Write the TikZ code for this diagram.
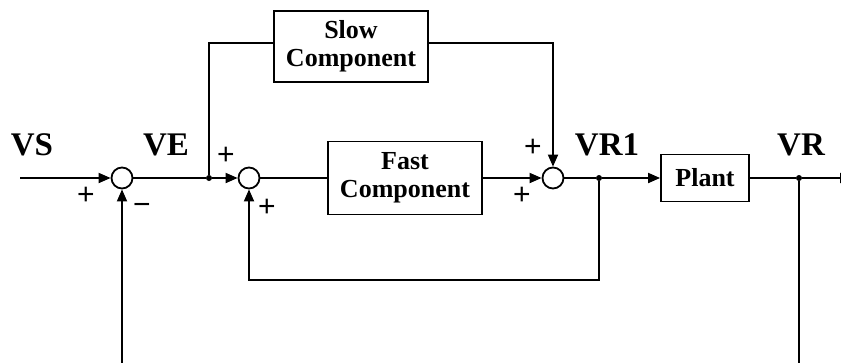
\documentclass[tikz,border=0pt]{standalone}
\usepackage{fontspec}
\setmainfont{Liberation Serif}
\newfontfamily\signfont{Liberation Sans}
\usetikzlibrary{arrows.meta}
\begin{document}
\begin{tikzpicture}[x=1pt,y=-1pt,
  wire/.style={line width=1.8pt},
  arr/.style={wire,-{Triangle[length=12pt,width=10pt]}},
  sumnode/.style={circle,draw,line width=1.8pt,minimum size=21pt,inner sep=0pt},
  blockbox/.style={draw,line width=1.8pt,inner sep=0pt,align=center,font=\fontsize{26}{28}\selectfont\bfseries},
  sig/.style={font=\fontsize{33}{33}\selectfont\bfseries,anchor=base},
  sgn/.style={font=\signfont\fontsize{30}{30}\selectfont},
  dot/.style={circle,fill,inner sep=0pt,minimum size=6pt}]
\useasboundingbox (0,0) rectangle (841,362);
% sums
\node[sumnode] (s1) at (122,178) {};
\node[sumnode] (s2) at (249,178) {};
\node[sumnode] (s3) at (553,178) {};
% blocks
\node[blockbox,minimum width=154pt,minimum height=71pt] (slow) at (351,46.5) {Slow\\Component};
\node[blockbox,minimum width=154pt,minimum height=73pt] (fast) at (405,178) {Fast\\Component};
\node[blockbox,minimum width=88pt,minimum height=47pt] (plant) at (705,178) {Plant};
% junctions
\node[dot] (j1) at (209,178) {};
\node[dot] (j2) at (599,178) {};
\node[dot] (j3) at (799,178) {};
% free ends
\coordinate (in) at (20,178);
\coordinate (out) at (852,178);
\coordinate (b1) at (122,365);
\coordinate (b3) at (799,365);
\coordinate (fb) at (599,280);
% connectors
\draw[arr] (in) -- (s1.west);
\draw[wire] (s1.east) -- (j1);
\draw[arr] (j1) -- (s2.west);
\draw[wire] (s2.east) -- (fast.west);
\draw[arr] (fast.east) -- (s3.west);
\draw[wire] (s3.east) -- (j2);
\draw[arr] (j2) -- (plant.west);
\draw[wire] (plant.east) -- (j3);
\draw[arr] (j3) -- (out);
\draw[wire] (j1) |- ([yshift=3.5pt]slow.west);
\draw[arr] ([yshift=3.5pt]slow.east) -| (s3.north);
\draw[arr] (j2) -- (fb) -| (s2.south);
\draw[arr] (b1) -- (s1.south);
\draw[wire] (j3) -- (b3);
% labels
\node[sig] (lvs) at (32,155) {VS};
\node[sig] (lve) at (166,155) {VE};
\node[sig] (lvr1) at (607,155) {VR1};
\node[sig] (lvr) at (801,155) {VR};
% signs
\node[sgn] (p1) at (86,196) {+};
\node[sgn] (m1) at (142,209) {\char"2212};
\node[sgn] (p2a) at (226,156) {+};
\node[sgn] (p2b) at (267,208) {+};
\node[sgn] (p3a) at (533,148) {+};
\node[sgn] (p3b) at (522,196) {+};
\end{tikzpicture}
\end{document}
